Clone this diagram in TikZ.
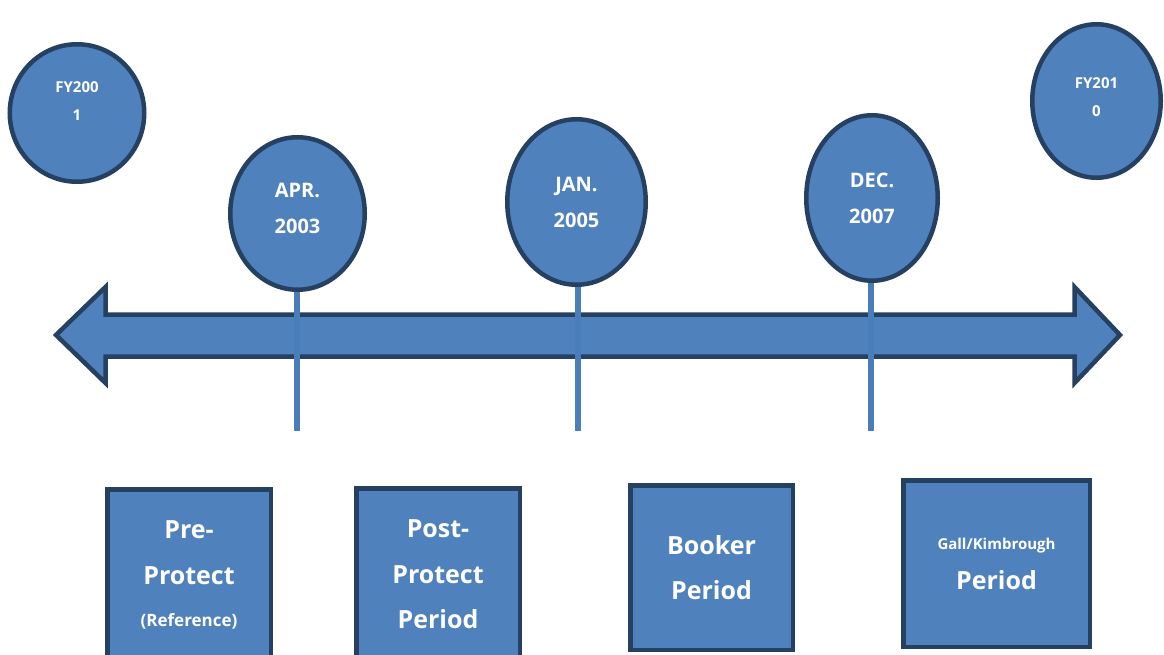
\documentclass[tikz,border=0pt]{standalone}
\usepackage{fontspec}
\setmainfont{Open Sans}
\usetikzlibrary{shapes.geometric}
\definecolor{fillblue}{RGB}{79,129,189}
\definecolor{edgeblue}{RGB}{38,64,97}
\definecolor{stemblue}{RGB}{74,126,187}
\begin{document}
\begin{tikzpicture}[x=1pt,y=-1pt,
  shapefill/.style={fill=fillblue, draw=edgeblue, line width=4.5pt},
  ell/.style={shapefill, ellipse, inner sep=0pt, text=white, align=center,
    font=\bfseries\fontsize{20}{36}\selectfont},
  etext/.style={inner sep=0pt, text=white, align=center,
    font=\bfseries\fontsize{15}{28}\selectfont},
  box/.style={shapefill, rectangle, inner sep=0pt, text=white, align=center,
    font=\bfseries\fontsize{25}{46}\selectfont},
  stem/.style={draw=stemblue, line width=6pt},
  timearrow/.style={shapefill, line join=miter}]
\useasboundingbox (0,0) rectangle (1164,655);

% double-headed timeline arrow
\draw[timearrow] (56,335) -- (105.5,287) -- (105.5,314.5) -- (1074.5,314.5)
  -- (1074.5,287) -- (1120,335) -- (1074.5,383) -- (1074.5,356.5)
  -- (105.5,356.5) -- (105.5,383) -- cycle;

% ellipses
\node[ell, minimum width=134.5pt, minimum height=137.5pt] (fy1) at (77,113) {};
\node[etext] (fy1t) at ([yshift=12pt]fy1.center) {FY200\\1};
\node[ell, minimum width=128.5pt, minimum height=153.5pt] (fy2) at (1096.5,101) {};
\node[etext] (fy2t) at ([yshift=4pt]fy2.center) {FY201\\0};

\coordinate (s1) at (297,431);
\coordinate (s2) at (578,431);
\coordinate (s3) at (871,431);

\node[ell, minimum width=134.5pt, minimum height=152.5pt] (apr) at (297.5,213.5) {};
\node[ell, minimum width=138.5pt, minimum height=165.5pt] (jan) at (576.5,202) {};
\node[ell, minimum width=131.5pt, minimum height=165.5pt] (dec) at (872,198) {};

\draw[stem] (apr.south -| s1) -- (s1);
\draw[stem] (jan.south -| s2) -- (s2);
\draw[stem] (dec.south -| s3) -- (s3);

\node[ell, draw=none, fill=none] (aprt) at ([yshift=5pt]apr.center) {APR.\\2003};
\node[ell, draw=none, fill=none] (jant) at (jan.center) {JAN.\\2005};
\node[ell, draw=none, fill=none] (dect) at (dec.center) {DEC.\\2007};

% period boxes
\node[box, minimum width=163.5pt, minimum height=170.5pt] (b1) at (189,574.5)
  {Pre-\\Protect\\[-4pt]{\fontsize{17}{20}\selectfont(Reference)}};
\node[box, minimum width=163.5pt, minimum height=171.5pt] (b2) at (438,574)
  {Post-\\Protect\\[-1pt]Period};
\node[box, minimum width=162.5pt, minimum height=164.5pt] (b3) at (711.5,567.5)
  {Booker\\[-1pt]Period};
\node[box, minimum width=186.5pt, minimum height=166.5pt] (b4) at (996.5,563.5)
  {{\fontsize{15}{20}\selectfont Gall/Kimbrough}\\[-6pt]Period};
\end{tikzpicture}
\end{document}
